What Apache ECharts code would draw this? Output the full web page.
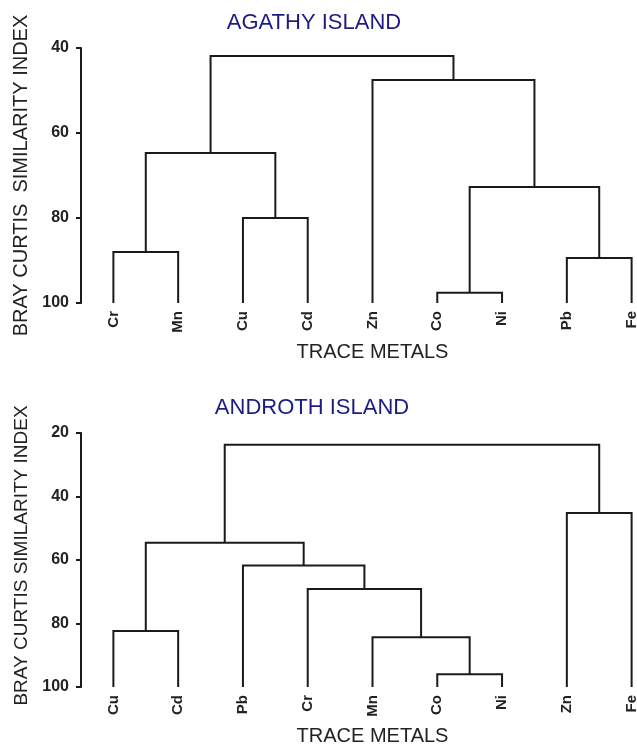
<!DOCTYPE html>
<html>
<head>
<meta charset="utf-8">
<script src="https://cdn.jsdelivr.net/npm/echarts@6/dist/echarts.min.js"></script>
<style>
  html, body { margin: 0; padding: 0; background: #fff; }
  #chart { width: 637px; height: 744px; }
</style>
</head>
<body>
<div id="chart"></div>
<script>
// 数据
var titles = ['AGATHY ISLAND', 'ANDROTH ISLAND']
var yNames = ['BRAY CURTIS  SIMILARITY INDEX', 'BRAY CURTIS SIMILARITY INDEX']
var leavesTop = ['Cr', 'Mn', 'Cu', 'Cd', 'Zn', 'Co', 'Ni', 'Pb', 'Fe']
var leavesBottom = ['Cu', 'Cd', 'Pb', 'Cr', 'Mn', 'Co', 'Ni', 'Zn', 'Fe']
// 合并: [左子, 右子, 相似度]; 0-8 是叶子, 9+ 是前面的合并
var mergesTop = [
    [5, 6, 97.6],
    [7, 8, 89.4],
    [0, 1, 88],
    [2, 3, 80],
    [9, 10, 72.7],
    [11, 12, 64.7],
    [4, 13, 47.5],
    [14, 15, 41.9]
]
var mergesBottom = [
    [5, 6, 96],
    [4, 9, 84.3],
    [0, 1, 82.4],
    [3, 10, 69.1],
    [2, 12, 61.7],
    [11, 13, 54.6],
    [7, 8, 45.2],
    [14, 15, 23.7]
]
var yTicksTop = [40, 60, 80, 100]
var yTicksBottom = [20, 40, 60, 80, 100]

var lineColor = '#1a1a1a'
var titleColor = '#1c1c82'

// 把合并表转成折线段
function buildLinks(leaves, merges) {
    var pos = leaves.map(function(_, i) { return [i, 100] })
    var links = []
    merges.forEach(function(m) {
        var a = pos[m[0]], b = pos[m[1]], h = m[2]
        links.push({ coords: [[a[0], a[1]], [a[0], h], [b[0], h], [b[0], b[1]]] })
        pos.push([(a[0] + b[0]) / 2, h])
    })
    return links
}

function xAxisOf(idx, leaves) {
    return {
        gridIndex: idx,
        type: 'value',
        min: -0.5,
        max: 8.5,
        name: 'TRACE METALS',
        nameLocation: 'middle',
        nameGap: 39,
        nameTextStyle: { fontFamily: 'Liberation Sans', fontSize: 20, color: '#222' },
        axisLine: { show: false },
        axisTick: { show: false },
        splitLine: { show: false },
        axisLabel: {
            customValues: leaves.map(function(_, i) { return i }),
            formatter: function(v) { return leaves[Math.round(v)] },
            rotate: 90,
            margin: 8,
            fontFamily: 'Liberation Sans',
            fontWeight: 'bold',
            fontSize: 15,
            color: '#222'
        }
    }
}

function yAxisOf(idx, ticks) {
    return {
        gridIndex: idx,
        type: 'value',
        inverse: true,
        min: ticks[0],
        max: ticks[ticks.length - 1],
        interval: 20,
        name: yNames[idx],
        nameLocation: 'middle',
        nameGap: idx === 0 ? 48 : 47,
        nameTextStyle: {
            fontFamily: 'Liberation Sans',
            fontSize: idx === 0 ? 20 : 19,
            color: '#222',
            padding: idx === 0 ? 0 : [0, 0, 0, 9]
        },
        axisLine: { show: true, onZero: false, lineStyle: { color: lineColor, width: 2 } },
        axisTick: { show: true, length: 5, lineStyle: { color: lineColor, width: 2 } },
        splitLine: { show: false },
        axisLabel: {
            margin: 12,
            fontFamily: 'Liberation Sans',
            fontWeight: 'bold',
            fontSize: 16,
            color: '#222'
        }
    }
}

function seriesOf(idx, leaves, merges) {
    return {
        type: 'lines',
        coordinateSystem: 'cartesian2d',
        xAxisIndex: idx,
        yAxisIndex: idx,
        polyline: true,
        silent: true,
        lineStyle: { color: lineColor, width: 2, opacity: 1 },
        data: buildLinks(leaves, merges)
    }
}

var option = {
    animation: false,
    backgroundColor: '#fff',
    title: [{
        text: titles[0],
        left: 314,
        top: 12,
        textAlign: 'center',
        padding: 0,
        textStyle: { fontFamily: 'Liberation Sans', fontSize: 22, fontWeight: 'normal', color: titleColor }
    }, {
        text: titles[1],
        left: 312,
        top: 397,
        textAlign: 'center',
        padding: 0,
        textStyle: { fontFamily: 'Liberation Sans', fontSize: 22, fontWeight: 'normal', color: titleColor }
    }],
    grid: [
        { left: 81, right: -27, top: 48, height: 255, outerBoundsMode: 'none', containLabel: false },
        { left: 81, right: -27, top: 433, height: 254, outerBoundsMode: 'none', containLabel: false }
    ],
    xAxis: [xAxisOf(0, leavesTop), xAxisOf(1, leavesBottom)],
    yAxis: [yAxisOf(0, yTicksTop), yAxisOf(1, yTicksBottom)],
    series: [seriesOf(0, leavesTop, mergesTop), seriesOf(1, leavesBottom, mergesBottom)]
}

var chart = echarts.init(document.getElementById('chart'))
chart.setOption(option)
window.addEventListener('resize', function() {
    chart.resize()
})
</script>
</body>
</html>
